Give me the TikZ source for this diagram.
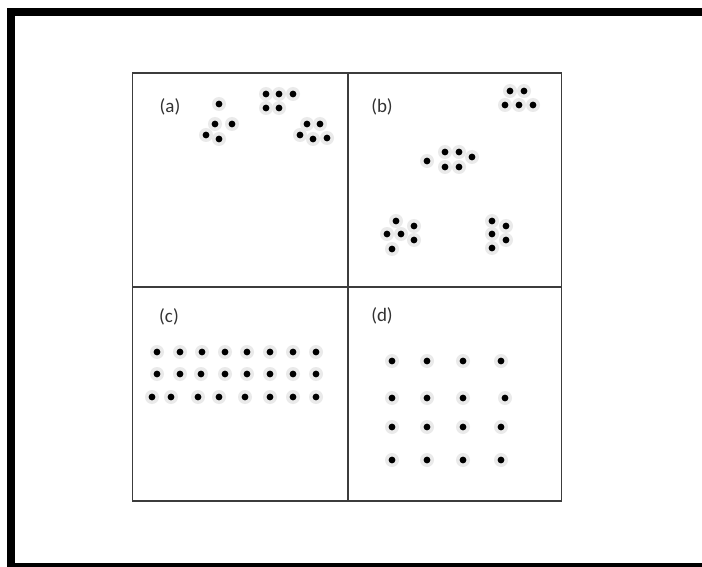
\documentclass[tikz,border=0pt]{standalone}
\usepackage{fontspec}
\setmainfont{Carlito}
\usepackage{xcolor}
\usepackage{tikz}
\usetikzlibrary{positioning}

\definecolor{panelline}{HTML}{3C3C3C}
\definecolor{glowgray}{HTML}{EAEAEA}

\tikzset{
  panel/.style={draw=panelline,line width=1.3},
  frame/.style={draw=black,line width=8},
  glow/.style={fill=glowgray},
  dotfill/.style={fill=black},
  tag/.style={font=\fontsize{19}{21}\selectfont,text=black!80,inner sep=0}
}

\begin{document}
\begin{tikzpicture}[x=1pt,y=-1pt,line join=miter]
  \useasboundingbox (0,0) rectangle (702,567);
  \clip (0,0) rectangle (702,567);
  \fill[white] (0,0) rectangle (702,567);

  % ---------- outer thick frame (runs off right and bottom) ----------
  \draw[frame] (11,12) rectangle (730,567);

  % ---------- four panels ----------
  \coordinate (tl) at (132.5,73);
  \coordinate (br) at (561.5,501);
  \draw[panel] (tl) rectangle (br);
  \draw[panel] (348,73) -- (348,501);
  \draw[panel] (132.5,287) -- (561.5,287);

  % ---------- panel labels ----------
  \node[tag] (lblA) at (170,107) {(a)};
  \node[tag] (lblB) at (382,107) {(b)};
  \node[tag] (lblC) at (169,317) {(c)};
  \node[tag] (lblD) at (382,316) {(d)};

  % ---------- dot positions ----------
  \def\dotsA{(219,104),(215,124),(232,124),(206,135),(219,139),
    (266,94),(279,94),(293,94),(266,108),(279,108),
    (307,124),(320,124),(300,135),(313,139),(327,138)}
  \def\dotsB{(510,91),(524,91),(505,105),(519,105),(533,105),
    (427,161),(445,152),(459,152),(472,157),(445,167),(459,167),
    (396,221),(414,226),(387,234),(401,234),(414,240),(392,249),
    (492,221),(506,226),(492,234),(506,240),(492,248)}
  \def\dotsC{(157,352),(180,352),(202,352),(225,352),(247,352),(270,352),(293,352),(316,352),
    (157,374),(180,374),(201,374),(225,374),(247,374),(270,374),(293,374),(316,374),
    (152,397),(171,397),(198,397),(219,397),(245,397),(270,397),(293,397),(316,397)}
  \def\dotsD{(392,361),(427,361),(463,361),(501,361),
    (392,398),(427,398),(463,398),(505,398),
    (392,427),(427,427),(463,427),(501,427),
    (392,460),(427,460),(463,460),(501,460)}

  % soft halo first, then the black dots
  \foreach \p in \dotsA {\fill[glow] \p circle (7);}
  \foreach \p in \dotsB {\fill[glow] \p circle (7);}
  \foreach \p in \dotsC {\fill[glow] \p circle (7);}
  \foreach \p in \dotsD {\fill[glow] \p circle (7);}
  \foreach \p in \dotsA {\fill[dotfill] \p circle (3.4);}
  \foreach \p in \dotsB {\fill[dotfill] \p circle (3.4);}
  \foreach \p in \dotsC {\fill[dotfill] \p circle (3.4);}
  \foreach \p in \dotsD {\fill[dotfill] \p circle (3.4);}
\end{tikzpicture}
\end{document}
